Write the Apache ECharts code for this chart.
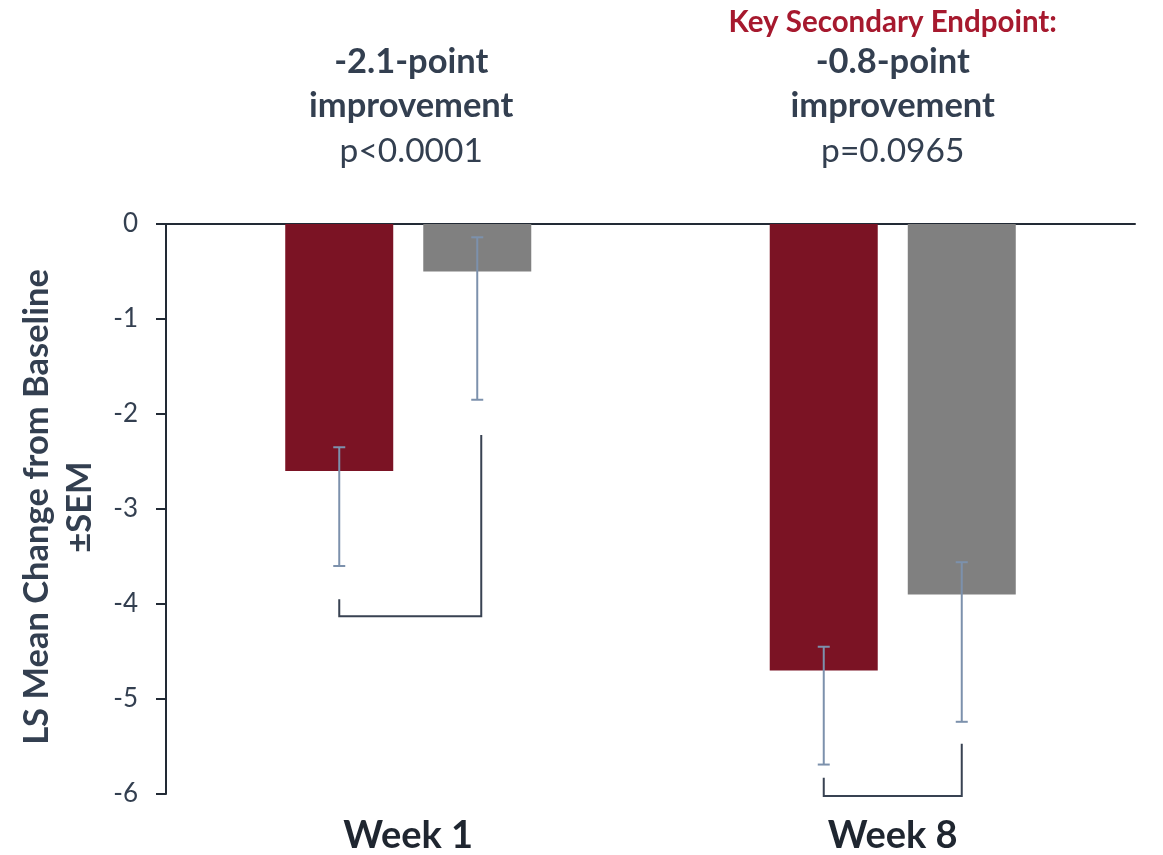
<!DOCTYPE html>
<html><head><meta charset="utf-8">
<script src="https://cdn.jsdelivr.net/npm/echarts@6/dist/echarts.min.js"></script>
<style>html,body{margin:0;padding:0;background:#fff}#c{width:1163px;height:855px}</style>
</head><body><div id="c"></div>
<script>
const categories = ['Week 1', 'Week 8'];
const treatmentValues = [-2.6, -4.7];
const placeboValues = [-0.5, -3.9];
const treatmentErrHigh = [-2.35, -4.45];
const treatmentErrLow = [-3.6, -5.69];
const placeboErrHigh = [-0.14, -3.56];
const placeboErrLow = [-1.85, -5.24];
const bracketLeftTop = [-3.95, -5.83];
const bracketBottom = [-4.13, -6.02];
const bracketRightTop = [-2.22, -5.47];
const yTickLabels = ['0', '-1', '-2', '-3', '-4', '-5', '-6'];
const kickers = ['', 'Key Secondary Endpoint:'];
const headlines = ['-2.1-point', '-0.8-point'];
const subheads = ['improvement', 'improvement'];
const pValues = ['p<0.0001', 'p=0.0965'];
const yTitle = ['LS Mean Change from Baseline', '±SEM'];

const FONT = 'Lato';
const TEXT = '#333F50';
const RED = '#7B1324';
const GRAY = '#808080';
const ERR = '#7C91AC';
const BRACKET = '#384252';
const BAR_W = 108;
const HALF_STEP = 69; // half distance between bar centres

const chart = echarts.init(document.getElementById('c'), null, {renderer: 'canvas'});

function errRender(offset) {
  return function (params, api) {
    const c = api.value(0);
    const hi = api.coord([c, api.value(1)]);
    const lo = api.coord([c, api.value(2)]);
    const x = hi[0] + offset;
    const style = {stroke: ERR, lineWidth: 2};
    return {type: 'group', children: [
      {type: 'line', shape: {x1: x, y1: hi[1], x2: x, y2: lo[1]}, style},
      {type: 'line', shape: {x1: x - 6, y1: hi[1], x2: x + 6, y2: hi[1]}, style},
      {type: 'line', shape: {x1: x - 6, y1: lo[1], x2: x + 6, y2: lo[1]}, style}
    ]};
  };
}

function bracketRender(params, api) {
  const c = api.value(0);
  const a = api.coord([c, api.value(1)]);
  const b = api.coord([c, api.value(2)]);
  const d = api.coord([c, api.value(3)]);
  const xl = a[0] - HALF_STEP, xr = a[0] + HALF_STEP + (c === 0 ? 4 : 0);
  return {type: 'polyline', shape: {points: [[xl, a[1]], [xl, b[1]], [xr, b[1]], [xr, d[1]]]},
    style: {stroke: BRACKET, lineWidth: 2, fill: null}};
}

const yTickValues = yTickLabels.map(Number);

chart.setOption({
  animation: false,
  grid: {left: 166, right: 28, top: 224, bottom: 61},
  xAxis: [
    {type: 'category', data: categories, position: 'bottom',
      axisLine: {show: false}, axisTick: {show: false},
      axisLabel: {fontFamily: FONT, fontWeight: 'bold', fontSize: 38, color: '#1F2630', margin: 23}},
    {type: 'category', data: categories, position: 'top',
      axisLine: {show: true, lineStyle: {color: '#222A35', width: 2}}, axisTick: {show: false}, axisLabel: {show: false}}
  ],
  yAxis: {
    type: 'value', min: -6, max: 0, interval: 1,
    axisLine: {show: true, lineStyle: {color: '#222A35', width: 2}},
    axisTick: {show: true, length: 10, lineStyle: {color: '#222A35', width: 2}},
    splitLine: {show: false},
    axisLabel: {fontFamily: FONT, fontSize: 26, color: TEXT, margin: 28,
      formatter: v => yTickLabels[yTickValues.indexOf(v)] ?? String(v)}
  },
  series: [
    {type: 'bar', name: 'Treatment', data: treatmentValues, barWidth: BAR_W, barGap: '27.8%',
      itemStyle: {color: RED}},
    {type: 'bar', name: 'Placebo', data: placeboValues, barWidth: BAR_W, barGap: '27.8%',
      itemStyle: {color: GRAY}},
    {type: 'custom', name: 'errT', renderItem: errRender(-HALF_STEP), z: 5,
      data: categories.map((_, i) => [i, treatmentErrHigh[i], treatmentErrLow[i]])},
    {type: 'custom', name: 'errP', renderItem: errRender(HALF_STEP), z: 5,
      data: categories.map((_, i) => [i, placeboErrHigh[i], placeboErrLow[i]])},
    {type: 'custom', name: 'bracket', renderItem: bracketRender, z: 5, clip: false,
      data: categories.map((_, i) => [i, bracketLeftTop[i], bracketBottom[i], bracketRightTop[i]])}
  ]
});

const graphics = [];
categories.forEach((cat, i) => {
  const x = chart.convertToPixel({xAxisIndex: 0}, cat) + (i === 0 ? 3 : 0);
  if (kickers[i]) graphics.push({type: 'text', x, y: 22, style: {text: kickers[i], fontFamily: FONT, fontWeight: 'bold', fontSize: 29.5, fill: '#A6192E', align: 'center', verticalAlign: 'middle'}});
  graphics.push({type: 'text', x, y: 62, style: {text: headlines[i], fontFamily: FONT, fontWeight: 'bold', fontSize: 34.5, fill: TEXT, align: 'center', verticalAlign: 'middle'}});
  graphics.push({type: 'text', x, y: 106, style: {text: subheads[i], fontFamily: FONT, fontWeight: 'bold', fontSize: 34.5, fill: TEXT, align: 'center', verticalAlign: 'middle'}});
  graphics.push({type: 'text', x, y: 151, style: {text: pValues[i], fontFamily: FONT, fontSize: 33.5, fill: TEXT, align: 'center', verticalAlign: 'middle'}});
});
graphics.push({type: 'text', x: 58, y: 507, rotation: Math.PI / 2,
  style: {text: yTitle.join('\n'), fontFamily: FONT, fontWeight: 'bold', fontSize: 34.5, lineHeight: 43, fill: TEXT, align: 'center', verticalAlign: 'middle'}});
chart.setOption({graphic: graphics});
</script></body></html>
